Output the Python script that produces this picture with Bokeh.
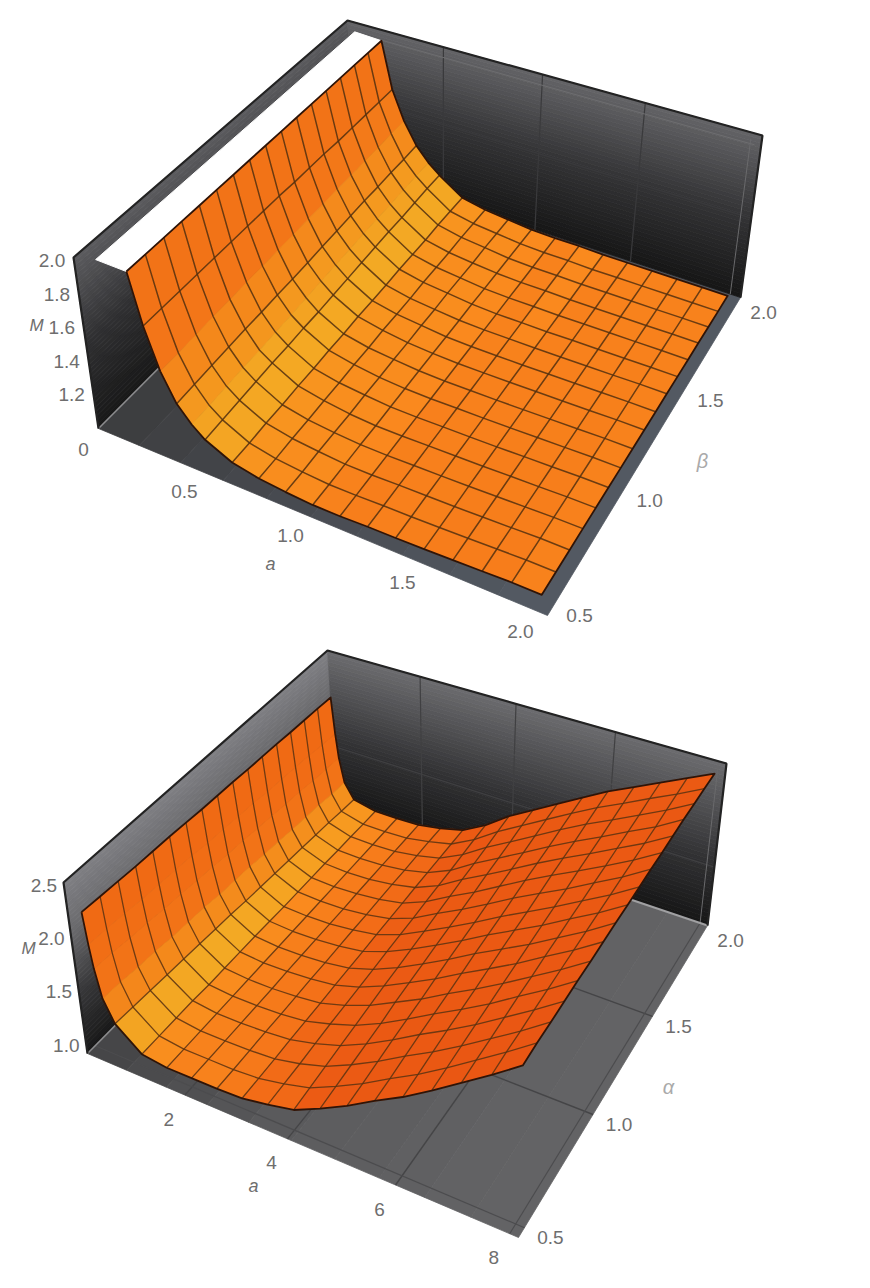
import numpy as np
from bokeh.plotting import figure
from bokeh.layouts import column
from bokeh.models import Range1d
from bokeh.core.properties import value
from bokeh.embed import file_html
from bokeh.resources import INLINE

# ---------------- top panel data: M(a, beta) ----------------
beta_vals = [0.5, 0.594, 0.688, 0.781, 0.875, 0.969, 1.063, 1.156, 1.25, 1.344, 1.438, 1.531, 1.625, 1.719, 1.813, 1.906, 2.0]
a1_vals = [0.2, 0.25, 0.31, 0.375, 0.44, 0.5, 0.625, 0.75, 0.875, 1.0, 1.125, 1.25, 1.375, 1.5, 1.625, 1.75, 1.875, 2.0]
a1_mesh = [False, True, False, True, False, True, True, True, True, True, True, True, True, True, True, True, True, True]
t_a020 = [1.98] * 17
t_a025 = [1.68, 1.68, 1.68, 1.68, 1.68, 1.68, 1.68, 1.68, 1.68, 1.675, 1.675, 1.675, 1.67, 1.67, 1.67, 1.67, 1.67]
t_a031 = [1.44, 1.44, 1.445, 1.45, 1.45, 1.455, 1.455, 1.46, 1.46, 1.465, 1.465, 1.47, 1.47, 1.475, 1.475, 1.48, 1.48]
t_a0375 = [1.28, 1.285, 1.29, 1.295, 1.30, 1.30, 1.305, 1.305, 1.31, 1.315, 1.32, 1.325, 1.33, 1.33, 1.335, 1.335, 1.34]
t_a044 = [1.19, 1.19, 1.195, 1.20, 1.20, 1.205, 1.21, 1.215, 1.22, 1.225, 1.23, 1.235, 1.24, 1.24, 1.245, 1.25, 1.25]
t_a050 = [1.13, 1.135, 1.14, 1.145, 1.15, 1.15, 1.155, 1.155, 1.16, 1.165, 1.17, 1.175, 1.18, 1.18, 1.185, 1.19, 1.19]
t_a0625 = [1.06, 1.06, 1.065, 1.065, 1.07, 1.07, 1.075, 1.075, 1.08, 1.08, 1.08, 1.085, 1.085, 1.085, 1.09, 1.09, 1.09]
t_a075 = [1.03, 1.03, 1.035, 1.035, 1.04, 1.04, 1.045, 1.045, 1.05, 1.05, 1.05, 1.055, 1.055, 1.055, 1.06, 1.06, 1.06]
t_a0875 = [1.015, 1.015, 1.02, 1.02, 1.02, 1.025, 1.025, 1.03, 1.03, 1.035, 1.035, 1.04, 1.04, 1.04, 1.045, 1.045, 1.045]
t_a100 = [1.005, 1.005, 1.008, 1.01, 1.01, 1.013, 1.015, 1.018, 1.02, 1.02, 1.022, 1.025, 1.025, 1.027, 1.028, 1.03, 1.03]
t_a1125 = [1.005, 1.006, 1.007, 1.008, 1.01, 1.011, 1.012, 1.014, 1.015, 1.016, 1.017, 1.018, 1.02, 1.021, 1.022, 1.024, 1.025]
t_a125 = [1.01, 1.01, 1.011, 1.011, 1.012, 1.013, 1.014, 1.014, 1.015, 1.016, 1.017, 1.018, 1.02, 1.021, 1.022, 1.024, 1.025]
t_a1375 = [1.012, 1.012, 1.013, 1.013, 1.014, 1.014, 1.015, 1.015, 1.016, 1.016, 1.017, 1.017, 1.018, 1.018, 1.019, 1.019, 1.02]
t_a150 = [1.015, 1.015, 1.015, 1.016, 1.016, 1.016, 1.017, 1.017, 1.018, 1.018, 1.018, 1.019, 1.019, 1.019, 1.02, 1.02, 1.02]
t_a1625 = [1.02] * 17
t_a175 = [1.025, 1.025, 1.024, 1.024, 1.023, 1.023, 1.023, 1.022, 1.022, 1.022, 1.021, 1.021, 1.021, 1.02, 1.02, 1.02, 1.02]
t_a1875 = [1.03, 1.03, 1.029, 1.028, 1.027, 1.027, 1.026, 1.026, 1.025, 1.024, 1.024, 1.023, 1.022, 1.022, 1.021, 1.02, 1.02]
t_a200 = [1.03, 1.03, 1.029, 1.029, 1.028, 1.027, 1.026, 1.026, 1.025, 1.024, 1.024, 1.023, 1.022, 1.022, 1.021, 1.02, 1.02]
top_cols = [t_a020, t_a025, t_a031, t_a0375, t_a044, t_a050, t_a0625, t_a075, t_a0875, t_a100, t_a1125, t_a125, t_a1375, t_a150, t_a1625, t_a175, t_a1875, t_a200]

# ---------------- bottom panel data: M(a, alpha) ----------------
alpha_vals = beta_vals
a2_vals = [0.1, 0.15, 0.2, 0.3, 0.5, 1.0, 1.5, 2.0, 2.5, 3.0, 3.5, 4.0, 4.5, 5.0, 5.5, 6.0, 6.5, 7.0, 7.5, 8.0]
a2_mesh = [False, False, False, False, True, True, True, True, True, True, True, True, True, True, True, True, True, True, True, True]
b_a010 = [2.20, 2.19, 2.18, 2.17, 2.165, 2.16, 2.15, 2.14, 2.135, 2.13, 2.12, 2.115, 2.11, 2.10, 2.095, 2.09, 2.08]
b_a015 = [1.90, 1.89, 1.88, 1.86, 1.85, 1.84, 1.83, 1.81, 1.80, 1.79, 1.78, 1.76, 1.75, 1.74, 1.73, 1.71, 1.70]
b_a020 = [1.68, 1.67, 1.65, 1.64, 1.62, 1.61, 1.59, 1.58, 1.56, 1.55, 1.53, 1.52, 1.50, 1.49, 1.47, 1.46, 1.45]
b_a030 = [1.42, 1.41, 1.39, 1.38, 1.36, 1.35, 1.34, 1.32, 1.31, 1.30, 1.28, 1.27, 1.25, 1.24, 1.23, 1.21, 1.20]
b_a050 = [1.22, 1.21, 1.20, 1.19, 1.18, 1.17, 1.16, 1.15, 1.135, 1.125, 1.115, 1.105, 1.095, 1.085, 1.075, 1.06, 1.05]
b_a100 = [1.03, 1.03, 1.03, 1.03, 1.02, 1.02, 1.02, 1.02, 1.015, 1.01, 1.01, 1.01, 1.01, 1.005, 1.005, 1.0, 1.0]
b_a150 = [1.0] * 17
b_a200 = [1.0, 1.0, 1.0, 1.0, 1.0, 1.0, 1.005, 1.005, 1.005, 1.005, 1.005, 1.01, 1.01, 1.01, 1.01, 1.01, 1.01]
b_a250 = [1.0, 1.0, 1.005, 1.01, 1.01, 1.015, 1.02, 1.02, 1.025, 1.03, 1.03, 1.035, 1.04, 1.04, 1.045, 1.05, 1.05]
b_a300 = [1.01, 1.015, 1.02, 1.03, 1.035, 1.04, 1.05, 1.055, 1.06, 1.07, 1.075, 1.08, 1.09, 1.095, 1.10, 1.105, 1.11]
b_a350 = [1.05, 1.06, 1.07, 1.085, 1.10, 1.11, 1.12, 1.13, 1.145, 1.155, 1.165, 1.18, 1.19, 1.20, 1.215, 1.23, 1.24]
b_a400 = [1.10, 1.12, 1.14, 1.16, 1.18, 1.20, 1.22, 1.235, 1.255, 1.275, 1.295, 1.315, 1.335, 1.35, 1.37, 1.39, 1.41]
b_a450 = [1.21, 1.23, 1.25, 1.27, 1.29, 1.32, 1.34, 1.36, 1.38, 1.40, 1.42, 1.44, 1.465, 1.485, 1.505, 1.53, 1.55]
b_a500 = [1.33, 1.35, 1.375, 1.40, 1.42, 1.44, 1.465, 1.49, 1.51, 1.53, 1.555, 1.58, 1.60, 1.62, 1.645, 1.67, 1.69]
b_a550 = [1.47, 1.49, 1.515, 1.54, 1.56, 1.58, 1.605, 1.63, 1.65, 1.67, 1.695, 1.72, 1.74, 1.76, 1.785, 1.81, 1.83]
b_a600 = [1.60, 1.62, 1.645, 1.67, 1.69, 1.71, 1.735, 1.76, 1.78, 1.80, 1.825, 1.85, 1.87, 1.89, 1.92, 1.945, 1.97]
b_a650 = [1.75, 1.77, 1.79, 1.81, 1.83, 1.85, 1.87, 1.89, 1.91, 1.93, 1.95, 1.975, 1.995, 2.015, 2.04, 2.065, 2.09]
b_a700 = [1.91, 1.93, 1.945, 1.965, 1.985, 2.00, 2.02, 2.035, 2.055, 2.07, 2.09, 2.105, 2.125, 2.145, 2.165, 2.19, 2.21]
b_a750 = [2.07, 2.09, 2.10, 2.12, 2.135, 2.15, 2.165, 2.18, 2.195, 2.21, 2.225, 2.24, 2.255, 2.27, 2.29, 2.31, 2.33]
b_a800 = [2.24, 2.26, 2.27, 2.285, 2.30, 2.31, 2.325, 2.34, 2.35, 2.365, 2.38, 2.39, 2.405, 2.42, 2.43, 2.44, 2.45]
bottom_cols = [b_a010, b_a015, b_a020, b_a030, b_a050, b_a100, b_a150, b_a200, b_a250, b_a300, b_a350, b_a400, b_a450, b_a500, b_a550, b_a600, b_a650, b_a700, b_a750, b_a800]

# tick labels
top_a_ticks = [0, 0.5, 1.0, 1.5, 2.0]
top_a_labels = ["0", "0.5", "1.0", "1.5", "2.0"]
top_b_ticks = [0.5, 1.0, 1.5, 2.0]
top_z_ticks = [1.2, 1.4, 1.6, 1.8, 2.0]
bot_a_ticks = [2, 4, 6, 8]
bot_a_labels = ["2", "4", "6", "8"]
bot_b_ticks = [0.5, 1.0, 1.5, 2.0]
bot_z_ticks = [1.0, 1.5, 2.0, 2.5]

FONT = "Liberation Sans"
TEXT = "#6e6e6e"


def homography(quad):
    src = [(0, 0), (1, 0), (1, 1), (0, 1)]
    A, b = [], []
    for (u, v), (x, y) in zip(src, quad):
        A.append([u, v, 1, 0, 0, 0, -u * x, -v * x]); b.append(x)
        A.append([0, 0, 0, u, v, 1, -u * y, -v * y]); b.append(y)
    h = np.linalg.solve(np.array(A, float), np.array(b, float))
    return np.append(h, 1).reshape(3, 3)


class Box:
    """Perspective camera: maps (a, b, z) to page pixels."""
    def __init__(self, ar, br, zr, floor, top):
        self.ar, self.br, self.zr = ar, br, zr
        self.h0, self.h1 = homography(floor), homography(top)

    def __call__(self, a, b, z):
        u = (np.asarray(a, float) - self.ar[0]) / (self.ar[1] - self.ar[0])
        v = (np.asarray(b, float) - self.br[0]) / (self.br[1] - self.br[0])
        w = (np.asarray(z, float) - self.zr[0]) / (self.zr[1] - self.zr[0])
        def ap(H):
            d = H[2, 0] * u + H[2, 1] * v + H[2, 2]
            return (H[0, 0] * u + H[0, 1] * v + H[0, 2]) / d, (H[1, 0] * u + H[1, 1] * v + H[1, 2]) / d
        x0, y0 = ap(self.h0)
        x1, y1 = ap(self.h1)
        return (1 - w) * x0 + w * x1, (1 - w) * y0 + w * y1


def mix(stops, t):
    ts = [s[0] for s in stops]
    c = [int(round(np.interp(t, ts, [s[1][k] for s in stops]))) for k in range(3)]
    return "#%02x%02x%02x" % tuple(c)


def band_patches(p, cam, corner_fn, n, stops):
    xs, ys, cs = [], [], []
    for k in range(n):
        t0, t1 = k / n, (k + 1) / n
        pts = corner_fn(t0, t1)
        X, Y = zip(*[cam(*q) for q in pts])
        xs.append([float(v) for v in X]); ys.append([float(v) for v in Y])
        cs.append(mix(stops, (t0 + t1) / 2))
    p.patches(xs, ys, fill_color=cs, line_color=cs, line_width=0.8)


def line(p, cam, pts, color, width, alpha=1.0):
    X, Y = zip(*[cam(*q) for q in pts])
    p.line([float(v) for v in X], [float(v) for v in Y], line_color=color, line_width=width, line_alpha=alpha)


FALL = [(0, (250, 136, 30)), (0.3, (249, 142, 30)), (0.7, (247, 155, 32)), (1.4, (243, 170, 36)), (3, (244, 150, 30)), (7, (243, 118, 24)), (30, (240, 106, 20))]
RISE = [(0, (248, 130, 28)), (0.3, (244, 112, 24)), (1, (236, 92, 20)), (2, (232, 84, 18))]


def draw_surface(p, cam, a_vals, b_vals, cols, mesh, edge_w, mesh_w, mesh_col):
    M = np.array(cols, float).T  # rows: b, cols: a
    ns, nc = M.shape
    a = np.array(a_vals)
    b = np.array(b_vals)
    X, Y = cam(*np.meshgrid(a, b), M)
    span = (cam.ar[1] - cam.ar[0]) / (cam.zr[1] - cam.zr[0])
    cells = []
    for i in range(ns - 1):
        for j in range(nc - 1):
            slope = ((M[i, j + 1] - M[i, j]) + (M[i + 1, j + 1] - M[i + 1, j])) / 2 / (a[j + 1] - a[j]) * span
            col = mix(FALL, -slope) if slope < 0 else mix(RISE, slope)
            cells.append((j - i, i, j, col))
    cells.sort(key=lambda c: c[0])
    xs, ys, cs = [], [], []
    for _, i, j, col in cells:
        xs.append([X[i, j], X[i, j + 1], X[i + 1, j + 1], X[i + 1, j]])
        ys.append([Y[i, j], Y[i, j + 1], Y[i + 1, j + 1], Y[i + 1, j]])
        cs.append(col)
    p.patches([list(map(float, v)) for v in xs], [list(map(float, v)) for v in ys], fill_color=cs, line_color=cs, line_width=0.7)
    # mesh lines
    mx, my = [], []
    for i in range(1, ns - 1):
        mx.append(X[i].tolist()); my.append(Y[i].tolist())
    for j in range(nc):
        if mesh[j] and j < nc - 1:
            mx.append(X[:, j].tolist()); my.append(Y[:, j].tolist())
    p.multi_line(mx, my, line_color=mesh_col, line_width=mesh_w, line_alpha=0.85)
    # boundary
    bx = X[0].tolist() + X[:, -1].tolist() + X[-1][::-1].tolist() + X[:, 0][::-1].tolist()
    by = Y[0].tolist() + Y[:, -1].tolist() + Y[-1][::-1].tolist() + Y[:, 0][::-1].tolist()
    p.line(bx, by, line_color="#2e1408", line_width=edge_w, line_join="round")


def labels(p, xs, ys, txt, size="19px", color=TEXT, style="normal"):
    p.text([float(v) for v in xs], [float(v) for v in ys], text=txt, text_font=value(FONT), text_font_size=size,
           text_color=color, text_align="center", text_baseline="middle", text_font_style=style)


def make_fig(y0, y1):
    p = figure(width=854, height=int(y1 - y0), x_range=Range1d(0, 854), y_range=Range1d(y1, y0),
               x_axis_type=None, y_axis_type=None, toolbar_location=None, output_backend="svg",
               min_border=0, outline_line_color=None, background_fill_color="white", border_fill_color="white")
    p.grid.visible = False
    return p


def shell(p, cam, wall_left, wall_back, floor_stops):
    a0, a1 = cam.ar; b0, b1 = cam.br; z0, z1 = cam.zr
    band_patches(p, cam, lambda s, t: [(a0 + s * (a1 - a0), b0, z0), (a0 + t * (a1 - a0), b0, z0),
                                       (a0 + t * (a1 - a0), b1, z0), (a0 + s * (a1 - a0), b1, z0)], 10, floor_stops)
    band_patches(p, cam, lambda s, t: [(a0, b0, z0 + s * (z1 - z0)), (a0, b0, z0 + t * (z1 - z0)),
                                       (a0, b1, z0 + t * (z1 - z0)), (a0, b1, z0 + s * (z1 - z0))], 40, wall_left)
    band_patches(p, cam, lambda s, t: [(a0, b1, z0 + s * (z1 - z0)), (a0, b1, z0 + t * (z1 - z0)),
                                       (a1, b1, z0 + t * (z1 - z0)), (a1, b1, z0 + s * (z1 - z0))], 40, wall_back)


def frame(p, cam):
    a0, a1 = cam.ar; b0, b1 = cam.br; z0, z1 = cam.zr
    line(p, cam, [(a0, b0, z0), (a0, b0, z1), (a0, b1, z1), (a1, b1, z1), (a1, b1, z0)], "#232323", 2.2)


# ======================= top panel =======================
p1 = make_fig(0, 645)
cam1 = Box((0.0, 2.05), (0.46, 2.03), (1.0, 2.02),
           [(98, 428), (547, 615), (740, 297), (355, 170)],
           [(73, 257), (559, 420), (762, 135), (347, 20)])
shell(p1, cam1,
      [(0, (24, 24, 24)), (0.5, (48, 48, 50)), (1, (92, 92, 95))],
      [(0, (22, 22, 22)), (0.5, (52, 52, 54)), (1, (100, 100, 103))],
      [(0, (60, 60, 62)), (0.4, (70, 73, 78)), (1, (84, 90, 100))])
for t in [0.5, 1.0, 1.5]:
    line(p1, cam1, [(t, 2.03, 1.0), (t, 2.03, 2.02)], "#3a3a3c", 1.2)
line(p1, cam1, [(0.0, 2.03, 1.5), (2.05, 2.03, 1.5)], "#3a3a3c", 1.2)
line(p1, cam1, [(0.02, 2.03, 1.95), (2.02, 2.03, 1.95)], "#6e6e70", 1.0)
line(p1, cam1, [(2.0, 2.03, 1.0), (2.0, 2.03, 1.98)], "#6a6a6c", 1.0)
line(p1, cam1, [(0.0, 0.46, 1.0), (0.0, 2.03, 1.0)], "#8c8c8e", 1.6)
# white gap at the top of the left wall
gx, gy = cam1(np.array([0.06, 0.2, 0.2, 0.06]), np.array([0.5, 0.5, 2.0, 2.0]), np.array([1.99, 1.98, 1.98, 1.99]))
p1.patch(gx.tolist(), gy.tolist(), fill_color="white", line_color="#ffffff", line_width=1)
draw_surface(p1, cam1, a1_vals, beta_vals, top_cols, a1_mesh, 1.8, 1.5, "#54300f")
frame(p1, cam1)

ax, ay = cam1(np.array(top_a_ticks, float), np.full(len(top_a_ticks), 0.46), np.full(len(top_a_ticks), 1.0))
labels(p1, ax - 15, ay + 21, top_a_labels)
bx_, by_ = cam1(np.full(4, 2.05), np.array(top_b_ticks), np.full(4, 1.0))
labels(p1, bx_ + 26, by_ + 10, ["%.1f" % v for v in top_b_ticks])
zx, zy = cam1(np.zeros(5), np.full(5, 0.46), np.array(top_z_ticks))
labels(p1, zx - 22, zy, ["%.1f" % v for v in top_z_ticks])
labels(p1, [36], [325], ["M"], size="17px", style="italic")
labels(p1, [270], [563], ["a"], size="18px", style="italic")
labels(p1, [702], [460], ["β"], size="20px", color="#aaaaaa", style="italic")

# ======================= bottom panel =======================
p2 = make_fig(645, 1272)
cam2 = Box((0.0, 8.15), (0.46, 2.03), (0.92, 2.53),
           [(87, 1053), (518, 1237), (707, 925), (337, 800)],
           [(63, 882), (527, 1042), (726, 763), (327, 650)])
shell(p2, cam2,
      [(0, (24, 24, 24)), (0.35, (55, 55, 57)), (0.7, (105, 105, 108)), (1, (128, 128, 132))],
      [(0, (22, 22, 22)), (0.4, (50, 50, 52)), (1, (108, 108, 111))],
      [(0, (68, 68, 70)), (0.5, (92, 92, 94)), (1, (100, 100, 102))])
for t in [2, 4, 6]:
    line(p2, cam2, [(t, 2.03, 0.92), (t, 2.03, 2.53)], "#404042", 1.2)
    line(p2, cam2, [(t, 0.46, 0.92), (t, 2.03, 0.92)], "#454547", 1.4)
for t in [1.0, 1.5]:
    line(p2, cam2, [(0, t, 0.92), (8.15, t, 0.92)], "#454547", 1.4)
line(p2, cam2, [(0, 2.03, 1.5), (8.15, 2.03, 1.5)], "#404042", 1.2)
line(p2, cam2, [(0, 2.03, 2.0), (8.15, 2.03, 2.0)], "#505052", 1.0)
line(p2, cam2, [(8.0, 2.03, 0.92), (8.0, 2.03, 2.5)], "#6a6a6c", 1.0)
line(p2, cam2, [(0, 0.5, 0.92), (8.15, 0.5, 0.92)], "#4c4c4e", 1.2)
line(p2, cam2, [(8.0, 0.46, 0.92), (8.0, 2.03, 0.92)], "#4c4c4e", 1.2)
line(p2, cam2, [(0, 2.03, 0.92), (8.15, 2.03, 0.92)], "#a0a0a2", 2.0)
line(p2, cam2, [(0, 0.46, 0.92), (0, 2.03, 0.92)], "#8c8c8e", 1.6)
draw_surface(p2, cam2, a2_vals, alpha_vals, bottom_cols, a2_mesh, 1.8, 1.3, "#5a3312")
frame(p2, cam2)

ax, ay = cam2(np.array(bot_a_ticks, float), np.full(4, 0.46), np.full(4, 0.92))
labels(p2, ax - 16, ay + 24, bot_a_labels)
bx_, by_ = cam2(np.full(4, 8.15), np.array(bot_b_ticks), np.full(4, 0.92))
labels(p2, bx_ + 26, by_ + 10, ["%.1f" % v for v in bot_b_ticks])
zx, zy = cam2(np.zeros(4), np.full(4, 0.46), np.array(bot_z_ticks))
labels(p2, zx - 20, zy, ["%.1f" % v for v in bot_z_ticks])
labels(p2, [28], [948], ["M"], size="17px", style="italic")
labels(p2, [253], [1185], ["a"], size="18px", style="italic")
labels(p2, [668], [1086], ["α"], size="20px", color="#aaaaaa", style="italic")

page = column(p1, p2, spacing=0)
open("out.html", "w").write(file_html(page, INLINE))
